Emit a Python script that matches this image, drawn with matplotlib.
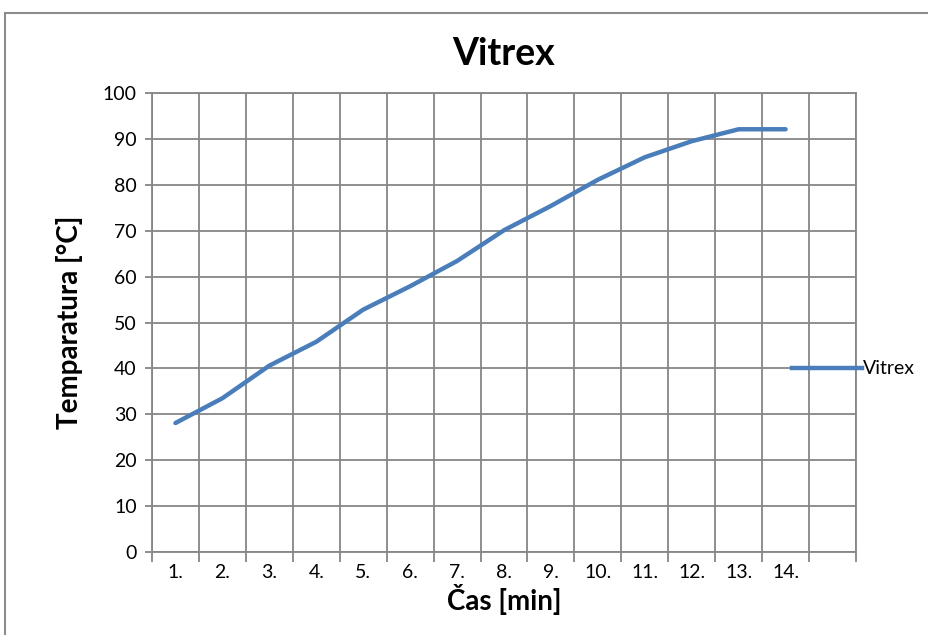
import numpy as np
import matplotlib
matplotlib.use('Agg')
import matplotlib.pyplot as plt
from matplotlib.lines import Line2D

plt.rcParams['font.family'] = ['Lato', 'DejaVu Sans']

# data
categories = ['1.', '2.', '3.', '4.', '5.', '6.', '7.', '8.', '9.', '10.',
              '11.', '12.', '13.', '14.', '']
temps = [28.1, 33.5, 40.6, 45.8, 52.8, 57.9, 63.4, 70.1, 75.4, 81.1,
         86.0, 89.5, 92.1, 92.1]
series_name = 'Vitrex'

GRID = '#868686'
BLUE = '#4a7ebb'

fig = plt.figure(figsize=(9.29, 6.35), dpi=100)
ax = fig.add_axes([152/929, 83/635, 704/929, 459/635])

x = np.arange(len(temps)) + 0.5
ax.plot(x, temps, color=BLUE, lw=3.2, solid_capstyle='round',
        solid_joinstyle='round', zorder=3)

ax.set_xlim(0, len(categories))
ax.set_ylim(0, 100)

# gridlines on category boundaries, labels in the middle
ax.set_xticks(np.arange(len(categories) + 1))
ax.set_xticklabels([])
ax.set_xticks(np.arange(len(categories)) + 0.5, minor=True)
ax.set_xticklabels(categories, minor=True)
ax.tick_params(axis='x', which='major', length=7, width=1.3, color=GRID)
ax.tick_params(axis='x', which='minor', length=0, pad=9, labelsize=14)
ax.set_yticks(np.arange(0, 101, 10))
ax.tick_params(axis='y', length=5, width=1.3, color=GRID, pad=6, labelsize=14)

ax.grid(True, which='major', color=GRID, lw=1.3)
ax.set_axisbelow(True)
for s in ax.spines.values():
    s.set_color(GRID)
    s.set_linewidth(1.3)

ax.set_title('Vitrex', fontsize=27, fontweight='bold', pad=20)
ax.set_xlabel('Čas [min]', fontsize=20, fontweight='bold', labelpad=2)
ax.set_ylabel('Temparatura [°C]', fontsize=20, fontweight='bold', labelpad=14)

# legend sitting on the right edge
leg = fig.legend(handles=[Line2D([], [], color=BLUE, lw=3.2)], labels=[series_name],
                 loc='center left', bbox_to_anchor=(792/929, 1 - 369/635),
                 frameon=False, fontsize=14, handlelength=3.6, handletextpad=0.05,
                 borderpad=0, borderaxespad=0)

# chart area border (cropped on right and bottom)
fig.add_artist(Line2D([5/929, 5/929], [0, 1 - 13/635], color='#8c8c8c', lw=1.5))
fig.add_artist(Line2D([5/929, 1], [1 - 13/635, 1 - 13/635], color='#8c8c8c', lw=1.5))

fig.savefig('out.png', dpi=100)
